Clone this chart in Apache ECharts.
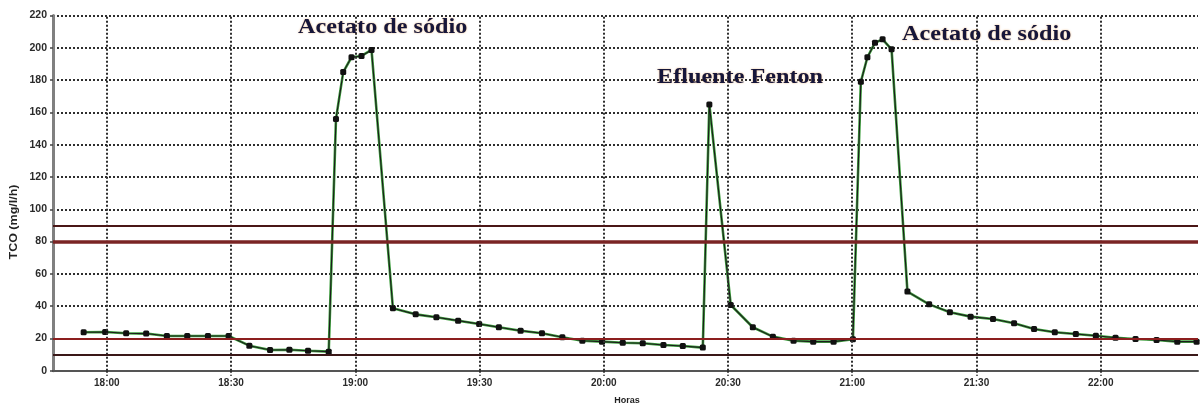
<!DOCTYPE html>
<html>
<head>
<meta charset="utf-8">
<script src="https://cdn.jsdelivr.net/npm/echarts@6/dist/echarts.min.js"></script>
<style>
  html, body { margin: 0; padding: 0; background: #ffffff; }
  #chart { width: 1202px; height: 405px; }
</style>
</head>
<body>
<div id="chart"></div>
<script>
// Sampling times (clock time) and measured TCO (mg/l/h)
const times = [
  '17:54:24', '17:59:36', '18:04:40', '18:09:30', '18:14:30', '18:19:25', '18:24:25',
  '18:29:25', '18:34:25', '18:39:25', '18:44:05', '18:48:35', '18:53:35',
  '18:55:20', '18:57:05', '18:59:05', '19:01:30', '19:03:55',
  '19:09:05', '19:14:35', '19:19:35', '19:24:50', '19:29:55', '19:34:40', '19:39:55',
  '19:45:05', '19:50:00', '19:54:50', '19:59:35', '20:04:35', '20:09:25', '20:14:25',
  '20:19:05', '20:23:55', '20:25:30',
  '20:30:40', '20:36:00', '20:40:50', '20:45:50', '20:50:35', '20:55:30', '21:00:10',
  '21:02:05', '21:03:40', '21:05:30', '21:07:20', '21:09:30',
  '21:13:20', '21:18:35', '21:23:35', '21:28:35', '21:34:00', '21:39:05', '21:43:55',
  '21:48:55', '21:54:00', '21:58:50', '22:03:35', '22:08:25', '22:13:30', '22:18:30',
  '22:23:10'
];
const tco = [
  23.8, 24.0, 23.2, 23.0, 21.5, 21.5, 21.5,
  21.5, 15.5, 12.8, 13.0, 12.4, 11.8,
  156, 185, 194.2, 195, 198.7,
  38.7, 34.9, 33.1, 31.0, 28.9, 26.9, 24.8,
  23.2, 20.7, 18.6, 18.0, 17.3, 17.0, 15.9,
  15.3, 14.3, 165,
  40.7, 26.9, 21.1, 18.6, 18.0, 18.0, 19.5,
  179, 194.2, 203.2, 205.3, 199.1,
  49, 41.1, 36.2, 33.5, 32.0, 29.4, 25.8,
  23.8, 22.7, 21.7, 20.4, 19.6, 19.0, 18.0,
  18.0
];
// Horizontal axis range and its labelled ticks
const xStart = '17:47:00';
const xEnd = '22:23:30';
const xTickLabels = ['18:00', '18:30', '19:00', '19:30', '20:00', '20:30', '21:00', '21:30', '22:00'];
// Reference limits drawn across the plot
const limitValues = [90, 80, 20, 10];
// Axis titles and event annotations
const yTitle = 'TCO (mg/l/h)';
const xTitle = 'Horas';
const noteTexts = ['Acetato de sódio', 'Efluente Fenton', 'Acetato de sódio'];

function toMinutes(s) {
  const p = s.split(':').map(Number);
  return p[0] * 60 + p[1] + (p[2] || 0) / 60;
}
function clock(v) {
  const h = Math.floor(v / 60);
  const m = Math.round(v - h * 60);
  return h + ':' + String(m).padStart(2, '0');
}

const points = times.map((t, i) => [toMinutes(t), tco[i]]);
const tickValues = xTickLabels.map(toMinutes);

const limitStyles = [
  { color: '#4a1616', width: 2, type: 'solid' },
  { color: '#7a2424', width: 3.5, type: 'solid' },
  { color: '#8c1e1e', width: 2, type: 'solid' },
  { color: '#3a1818', width: 2, type: 'solid' }
];
const notePlacement = [
  { x: 298, y: 27 },
  { x: 657, y: 77 },
  { x: 902, y: 34 }
];

const dotted = { color: '#2e2e2e', width: 2, type: [2, 2] };

const chart = echarts.init(document.getElementById('chart'), null, { renderer: 'canvas' });
chart.setOption({
  animation: false,
  backgroundColor: '#ffffff',
  grid: { left: 53, right: 4, top: 15.6, bottom: 34.3, containLabel: false, outerBoundsMode: 'none' },
  xAxis: {
    type: 'value',
    min: toMinutes(xStart),
    max: toMinutes(xEnd),
    axisLine: { show: true, lineStyle: { color: '#555555', width: 2 } },
    axisTick: { show: true, customValues: tickValues, length: 5, lineStyle: dotted },
    axisLabel: {
      customValues: tickValues,
      formatter: v => clock(v),
      margin: 8,
      fontFamily: 'Liberation Sans',
      fontSize: 10,
      fontWeight: 'bold',
      color: '#2a2a2a'
    },
    splitLine: { show: false }
  },
  yAxis: {
    type: 'value',
    min: 0,
    max: 220,
    interval: 20,
    axisLine: { show: true, lineStyle: { color: '#808080', width: 3 } },
    axisTick: { show: true, length: 3, lineStyle: { color: '#444', width: 1.5 } },
    axisLabel: {
      margin: 6,
      fontFamily: 'Liberation Sans',
      fontSize: 10.5,
      fontWeight: 'bold',
      color: '#2a2a2a'
    },
    splitLine: { show: true, lineStyle: dotted }
  },
  series: [
    {
      // Vertical dotted grid at the labelled hours and the limit lines
      type: 'line',
      data: [],
      silent: true,
      z: 1,
      markLine: {
        silent: true,
        symbol: ['none', 'none'],
        label: { show: false },
        animation: false,
        data: tickValues.map(v => ({ xAxis: v, lineStyle: dotted }))
          .concat(limitValues.map((v, i) => ({ yAxis: v, lineStyle: limitStyles[i] })))
      }
    },
    {
      type: 'line',
      data: points,
      showSymbol: false,
      z: 2,
      lineStyle: { color: '#3c9e3c', width: 2.6 }
    },
    {
      type: 'line',
      data: points,
      symbol: 'roundRect',
      symbolSize: 6,
      z: 3,
      itemStyle: { color: '#111111' },
      lineStyle: { color: '#1c1c1c', width: 1.1 }
    }
  ],
  graphic: [
    {
      type: 'text',
      x: 14,
      y: 222,
      rotation: Math.PI / 2,
      scaleX: 1.25,
      style: {
        text: yTitle,
        fill: '#222',
        font: 'bold 10px "Liberation Sans", sans-serif',
        textAlign: 'center',
        textVerticalAlign: 'middle'
      }
    },
    {
      type: 'text',
      x: 627,
      y: 401,
      style: {
        text: xTitle,
        fill: '#222',
        font: 'bold 9px "Liberation Sans", sans-serif',
        textAlign: 'center',
        textVerticalAlign: 'middle'
      }
    }
  ].concat(noteTexts.map((t, i) => ({
    type: 'text',
    x: notePlacement[i].x,
    y: notePlacement[i].y,
    scaleX: 1.1,
    z: 10,
    style: {
      text: t,
      fill: '#16163a',
      font: 'bold 22px "Liberation Serif", "DejaVu Serif", serif',
      textAlign: 'left',
      textVerticalAlign: 'middle',
      textShadowColor: 'rgba(225,135,40,0.6)',
      textShadowBlur: 2
    }
  })))
});
</script>
</body>
</html>
